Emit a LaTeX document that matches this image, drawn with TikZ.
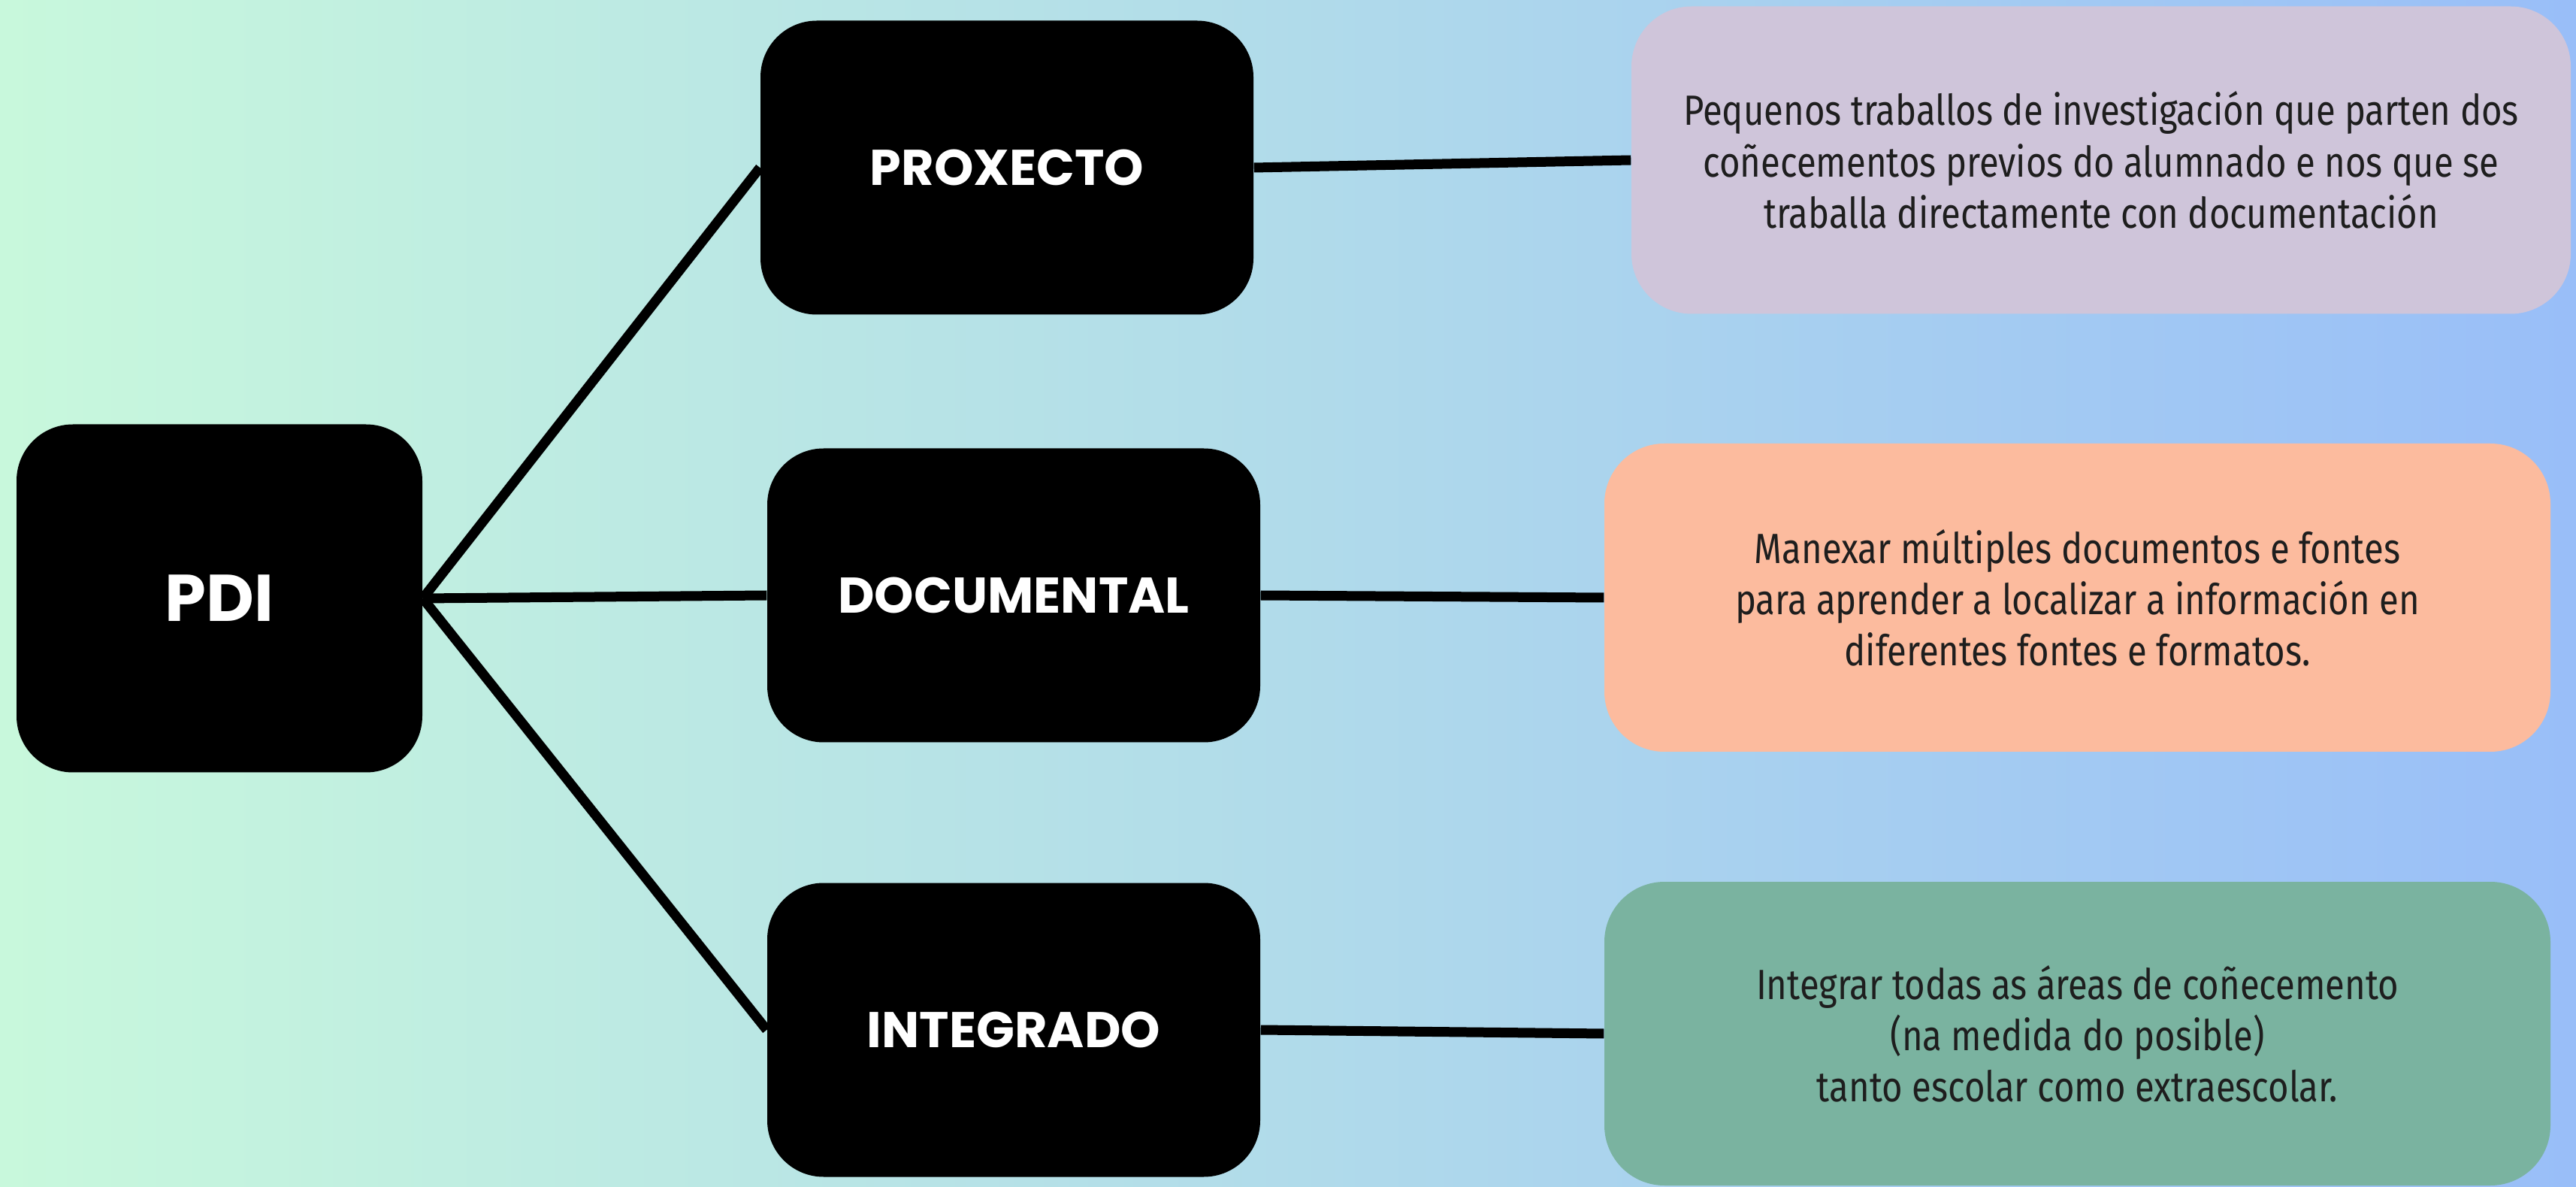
\documentclass[tikz,border=0pt]{standalone}
\usepackage{fontspec}
\usepackage{tikz}
\usetikzlibrary{positioning}
\newfontfamily\labelfont{Poppins}
\newfontfamily\descfont{Fira Sans}[FakeStretch=0.84]
\definecolor{mint}{HTML}{C8F8DC}
\definecolor{sky}{HTML}{99BEF8}
\definecolor{lila}{HTML}{CFC5DA}
\definecolor{peach}{HTML}{FCBB9E}
\definecolor{sage}{HTML}{7AB3A0}
\definecolor{ink}{HTML}{1E1E1E}
\tikzstyle{box} = [rectangle, fill=black, rounded corners=0.75cm, minimum width=6.56cm, minimum height=3.91cm, text=white, font=\labelfont\bfseries\fontsize{19}{23}\selectfont]
\tikzstyle{desc} = [rectangle, rounded corners=0.8cm, minimum width=12.59cm, minimum height=4.1cm, text=ink, align=center, font=\descfont\fontsize{16}{19.4}\selectfont]
\tikzstyle{line} = [line width=0.13cm]

\begin{document}
\begin{tikzpicture}
        \shade[left color=mint, right color=sky] (0,0) rectangle (34.28,15.78);
        \useasboundingbox (0,0) rectangle (34.28,15.78);
        \node[box, minimum width=5.40cm, minimum height=4.63cm, font=\labelfont\bfseries\fontsize{25}{30}\selectfont] (0) at (2.92,7.82) {PDI};
        \node[box, right of=0, xshift=9.57cm, yshift=0.04cm] (2) {DOCUMENTAL};
        \node[box, above of=2, xshift=-0.09cm, yshift=4.69cm] (1) {PROXECTO};
        \node[box, below of=2, yshift=-4.78cm] (3) {INTEGRADO};
        \node[desc, fill=lila, minimum width=12.50cm, minimum height=4.09cm, right of=1, xshift=13.56cm, yshift=0.10cm] (4) {Pequenos traballos de investigación que parten dos\\coñecementos previos do alumnado e nos que se\\traballa directamente con documentación};
        \node[desc, fill=peach, right of=2, xshift=13.155cm, yshift=-0.03cm] (5) {Manexar múltiples documentos e fontes\\para aprender a localizar a información en\\diferentes fontes e formatos.};
        \node[desc, fill=sage, minimum height=4.04cm, right of=3, xshift=13.155cm, yshift=-0.05cm] (6) {Integrar todas as áreas de coñecemento\\(na medida do posible)\\tanto escolar como extraescolar.};
        \draw[line] (0.east) edge (1.west)
        (0.east) edge (2.west)
        (0.east) edge (3.west)
        (1.east) edge (4.west)
        (2.east) edge (5.west)
        (3.east) edge (6.west);
      \end{tikzpicture}
\end{document}
